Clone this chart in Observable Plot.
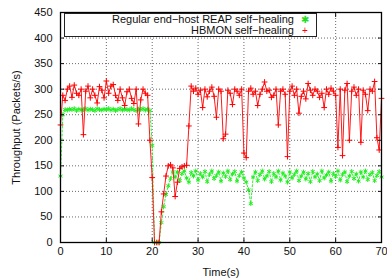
<!DOCTYPE html>
<html>
<head>
<meta charset="utf-8">
<script src="https://cdn.jsdelivr.net/npm/d3@7"></script>
<script src="https://cdn.jsdelivr.net/npm/@observablehq/plot@0.6"></script>
<style>
  html, body { margin: 0; padding: 0; background: #fff; }
  #wrap { position: relative; width: 387px; height: 278px; font-family: "Liberation Sans", Arial, sans-serif; }
  #legend { position: absolute; left: 64px; top: 13px; width: 251px; height: 22px; border: 1px solid #222;
    background: #fff; font-size: 11px; line-height: 11px; color: #111; }
  .row { display: flex; justify-content: flex-end; align-items: center; height: 11px; }
  .sym { width: 22px; text-align: center; font-size: 10px; }
</style>
</head>
<body>
<div id="wrap">
  <div id="chart"></div>
  <div id="legend">
    <div class="row"><span class="lbl">Regular end−host REAP self−healing</span><span class="sym" style="color:#22dd22">✱</span></div>
    <div class="row"><span class="lbl">HBMON self−healing</span><span class="sym" style="color:#ff0000">+</span></div>
  </div>
</div>
<script>
const times = [0,0.5,1,1.5,2,2.5,3,3.5,4,4.5,5,5.5,6,6.5,7,7.5,8,8.5,9,9.5,
  10,10.5,11,11.5,12,12.5,13,13.5,14,14.5,15,15.5,16,16.5,17,17.5,18,18.5,19,19.5,
  20,20.5,21,21.5,22,22.5,23,23.5,24,24.5,25,25.5,26,26.5,27,27.5,28,28.5,29,29.5,
  30,30.5,31,31.5,32,32.5,33,33.5,34,34.5,35,35.5,36,36.5,37,37.5,38,38.5,39,39.5,
  40,40.5,41,41.5,42,42.5,43,43.5,44,44.5,45,45.5,46,46.5,47,47.5,48,48.5,49,49.5,
  50,50.5,51,51.5,52,52.5,53,53.5,54,54.5,55,55.5,56,56.5,57,57.5,58,58.5,59,59.5,
  60,60.5,61,61.5,62,62.5,63,63.5,64,64.5,65,65.5,66,66.5,67,67.5,68,68.5,69,69.5,70];

const hbmon = [230,288,278,300,306,284,308,292,288,300,211,296,306,283,300,288,273,305,298,283,
  316,292,306,309,288,278,300,283,268,295,300,282,272,300,232,279,300,292,288,200,
  127,0,0,0,60,95,130,150,152,146,90,118,145,148,150,151,228,306,296,302,
  290,298,264,300,285,296,304,286,245,300,296,203,212,298,292,270,300,296,288,300,
  175,166,296,302,290,296,268,290,300,314,296,298,284,288,300,230,296,300,290,168,
  296,306,288,300,253,286,296,281,311,298,288,300,296,284,292,264,300,290,302,296,
  288,186,300,170,298,311,200,296,304,288,300,196,298,290,258,300,296,315,205,181,282];

const reap = [130,250,260,259,261,260,262,258,261,259,260,262,259,261,260,258,262,260,259,261,
  260,262,259,261,258,260,262,259,261,260,259,262,260,258,261,260,262,259,261,258,
  190,0,0,0,39,70,94,111,125,138,128,138,121,135,140,126,118,137,130,140,
  122,135,128,139,119,133,140,125,131,138,120,136,129,140,123,134,139,120,131,138,
  126,118,103,76,128,138,121,133,140,124,130,139,119,135,128,140,122,136,130,118,
  138,126,133,140,121,130,138,124,135,119,139,128,134,121,140,126,132,138,120,135,
  129,140,122,133,138,119,130,139,125,134,120,138,128,140,123,133,137,121,131,139,128];

const xTicks = [0,10,20,30,40,50,60,70];
const yTicks = [0,50,100,150,200,250,300,350,400,450];
const seriesNames = ["Regular end-host REAP self-healing", "HBMON self-healing"];

const rows = [];
times.forEach((t, i) => {
  rows.push({t, v: reap[i], s: seriesNames[0]});
  rows.push({t, v: hbmon[i], s: seriesNames[1]});
});
const reapRows = rows.filter(d => d.s === seriesNames[0]);
const hbRows = rows.filter(d => d.s === seriesNames[1]);

const gridStyle = {stroke: "#444", strokeOpacity: 0.8, strokeDasharray: "1,2", strokeWidth: 1};

const chart = Plot.plot({
  width: 387,
  height: 278,
  marginLeft: 60,
  marginRight: 6,
  marginTop: 12,
  marginBottom: 36,
  style: {fontFamily: "'Liberation Sans', Arial, sans-serif", fontSize: "11px", color: "#111", background: "#fff"},
  x: {domain: [0, 70]},
  y: {domain: [0, 450]},
  marks: [
    Plot.gridX(xTicks.slice(1, -1), gridStyle),
    Plot.gridY(yTicks.slice(1, -1), gridStyle),
    Plot.line(reapRows, {x: "t", y: "v", stroke: "#33ee33", strokeWidth: 1, strokeDasharray: "2,2"}),
    Plot.dot(reapRows, {x: "t", y: "v", symbol: "asterisk", r: 2.2, stroke: "#22ee22", strokeWidth: 1}),
    Plot.line(hbRows, {x: "t", y: "v", stroke: "#ff1a1a", strokeWidth: 1}),
    Plot.dot(hbRows, {x: "t", y: "v", symbol: "plus", r: 2, stroke: "#ff0000", strokeWidth: 1}),
    Plot.axisX(xTicks, {anchor: "bottom", tickSize: 0, tickPadding: 5, label: "Time(s)", labelAnchor: "center", labelOffset: 33, labelArrow: "none"}),
    Plot.axisY(yTicks, {anchor: "left", tickSize: 0, tickPadding: 8, label: "Throughput (Packets/s)", labelAnchor: "center", labelOffset: 48, labelArrow: "none"}),
    Plot.axisX(xTicks, {anchor: "bottom", tickSize: -4, tickFormat: () => "", label: null}),
    Plot.axisX(xTicks, {anchor: "top", tickSize: -4, tickFormat: () => "", label: null}),
    Plot.axisY(yTicks, {anchor: "left", tickSize: -4, tickFormat: () => "", label: null}),
    Plot.axisY(yTicks, {anchor: "right", tickSize: -4, tickFormat: () => "", label: null}),
    Plot.frame({stroke: "#000", strokeWidth: 1.3})
  ]
});
document.getElementById("chart").appendChild(chart);
</script>
</body>
</html>
